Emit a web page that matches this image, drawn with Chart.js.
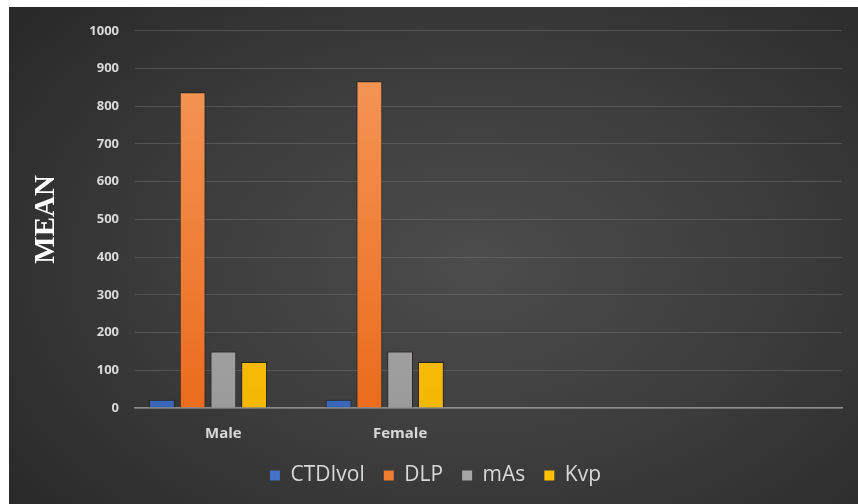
<!DOCTYPE html>
<html>
<head>
<meta charset="utf-8">
<script src="https://cdn.jsdelivr.net/npm/chart.js@4.4.1/dist/chart.umd.min.js"></script>
<style>
  html, body { margin: 0; padding: 0; background: #fff; }
  #wrap {
    position: absolute; left: 9px; top: 7px; width: 849px; height: 497px;
    background: radial-gradient(ellipse 75% 85% at 55% 52%, #4c4c4c 0%, #3d3d3d 45%, #262626 100%);
  }
</style>
</head>
<body>
<div id="wrap"><canvas id="chart" width="849" height="497"></canvas></div>
<script>
// ---- data ----
const CATEGORIES = ['Male', 'Female', '', ''];
const CTDIVOL    = [22, 22, null, null];
const DLP        = [837, 866, null, null];
const MAS        = [150, 150, null, null];
const KVP        = [122, 122, null, null];
// the source sheet has an empty fifth series that still takes a slot in each group
const EMPTY      = [null, null, null, null];

const Y_MIN  = 0;
const Y_MAX  = 1000;
const Y_STEP = 100;

const TEXT = '#d9d9d9';

// vertical gradient per bar colour, lighter at top
function grad(top, bottom) {
  return ctx => {
    const { chart } = ctx;
    const area = chart.chartArea;
    if (!area) return bottom;
    const g = chart.ctx.createLinearGradient(0, area.top, 0, area.bottom);
    g.addColorStop(0, top);
    g.addColorStop(1, bottom);
    return g;
  };
}

function dataset(label, data, top, bottom, legendColor) {
  return {
    label,
    data,
    backgroundColor: grad(top, bottom),
    borderColor:     'rgba(20,10,0,0.55)',
    borderWidth:     1,
    legendColor,
  };
}

new Chart(document.getElementById('chart'), {
  type: 'bar',
  data: {
    labels: CATEGORIES,
    datasets: [
      dataset('CTDIvol', CTDIVOL, '#5b86d6', '#3a66b8', '#4472c4'),
      dataset('DLP',     DLP,     '#f59a5c', '#ea6c1c', '#ed7d31'),
      dataset('mAs',     MAS,     '#bdbdbd', '#9a9a9a', '#a5a5a5'),
      dataset('Kvp',     KVP,     '#ffc93a', '#f5b800', '#ffc000'),
      dataset('',        EMPTY,   '#000',    '#000',    null),
    ],
  },
  options: {
    responsive:          false,
    animation:           false,
    categoryPercentage:  0.87,
    barPercentage:       0.84,
    layout: { padding: { top: 23, right: 16, left: 20, bottom: 8 } },
    plugins: {
      tooltip: { enabled: false },
      legend: {
        position: 'bottom',
        labels: {
          color:     TEXT,
          font:      { family: 'Open Sans', size: 21 },
          boxWidth:  10,
          boxHeight: 10,
          padding:   19,
          generateLabels(chart) {
            return chart.data.datasets
              .map((ds, i) => ({
                text:         ds.label,
                fillStyle:    ds.legendColor,
                strokeStyle:  ds.legendColor,
                lineWidth:    0,
                fontColor:    TEXT,
                datasetIndex: i,
                hidden:       false,
              }))
              .filter(item => item.text);
          },
        },
      },
    },
    scales: {
      x: {
        grid:   { display: false },
        border: { color: '#8c8c8c', width: 1.5 },
        ticks:  { color: TEXT, font: { family: 'Open Sans', size: 15, weight: 'bold' }, padding: 9 },
        afterFit(scale) { scale.height = 38; },
      },
      y: {
        min: Y_MIN,
        max: Y_MAX,
        ticks: {
          stepSize: Y_STEP,
          color:    TEXT,
          font:     { family: 'Open Sans', size: 13, weight: 'bold' },
          padding:  16,
          callback: v => String(v),
        },
        grid:   { color: 'rgba(120,120,120,0.45)', drawTicks: false },
        border: { display: false },
        title: {
          display: true,
          text:    'MEAN',
          color:   '#ffffff',
          font:    { family: 'Liberation Serif', size: 29, weight: 'bold' },
          padding: { top: 0, bottom: 0 },
        },
        afterFit(scale) { scale.width = 106; },
      },
    },
  },
});
</script>
</body>
</html>
